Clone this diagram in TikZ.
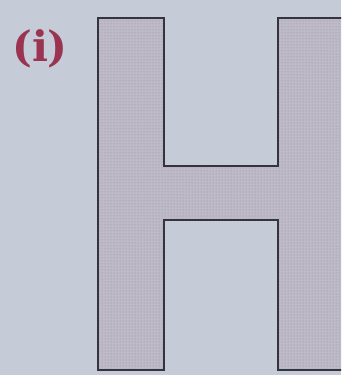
\documentclass[tikz,border=0pt]{standalone}
\usepackage{fontspec}
\newfontfamily\lblfont{DejaVu Serif}
\usetikzlibrary{patterns}
\definecolor{bg}{HTML}{C5CCD7}
\definecolor{hfill}{HTML}{BEBAC8}
\definecolor{hdots}{HTML}{8E8A9C}
\definecolor{hline}{HTML}{34343F}
\definecolor{lbl}{HTML}{9A3450}
\tikzset{
  shapeH/.style={draw=hline, line width=1.4pt, line join=miter},
  lbltext/.style={text=lbl, font=\lblfont\bfseries\fontsize{42}{48}\selectfont, inner sep=0pt}
}
\begin{document}
\begin{tikzpicture}[x=1pt,y=-1pt]
\useasboundingbox (0,0) rectangle (341,375);
\fill[bg] (0,0) rectangle (341,375);
\clip (0,0) rectangle (341,375);
\path[fill=hfill] (98,18) -- (164,18) -- (164,166) -- (278,166) -- (278,18) -- (352,18) -- (352,370) -- (278,370) -- (278,220) -- (164,220) -- (164,370) -- (98,370) -- cycle;
\path[pattern=dots, pattern color=hdots] (98,18) -- (164,18) -- (164,166) -- (278,166) -- (278,18) -- (352,18) -- (352,370) -- (278,370) -- (278,220) -- (164,220) -- (164,370) -- (98,370) -- cycle;
\draw[shapeH] (98,18) -- (164,18) -- (164,166) -- (278,166) -- (278,18) -- (352,18) -- (352,370) -- (278,370) -- (278,220) -- (164,220) -- (164,370) -- (98,370) -- cycle;
\node[lbltext] (label) at (40,49) {(i)};
\end{tikzpicture}
\end{document}
